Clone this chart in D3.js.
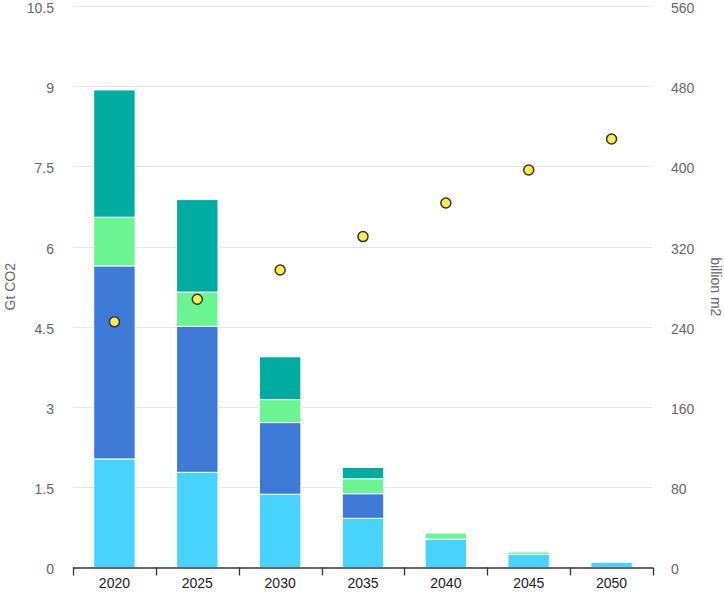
<!DOCTYPE html>
<html><head><meta charset="utf-8">
<script src="https://cdn.jsdelivr.net/npm/d3@7"></script>
<style>body{margin:0;background:#fff;}svg{display:block;font-family:"Liberation Sans",Arial,sans-serif;}</style>
</head><body><svg id="c" width="724" height="595"></svg>
<script>
const years = ["2020","2025","2030","2035","2040","2045","2050"];
const seriesNames = ["s1","s2","s3","s4"];
const s1 = [2.03, 1.78, 1.37, 0.92, 0.53, 0.245, 0.097];
const s2 = [3.61, 2.73, 1.34, 0.46, 0, 0, 0];
const s3 = [0.91, 0.64, 0.43, 0.28, 0.115, 0.045, 0];
const s4 = [2.38, 1.73, 0.80, 0.21, 0, 0, 0];
const colors = ["#48d3ff", "#3e79d5", "#6bf592", "#00ab9f"];
const area = [245, 267.5, 296.7, 330, 363.5, 396.4, 427.3];
const leftTicks = [0, 1.5, 3, 4.5, 6, 7.5, 9, 10.5];
const rightTicks = [0, 80, 160, 240, 320, 400, 480, 560];

const svg = d3.select("#c");
const m = {l:73, r:71, t:6, b:27.5};
const W = 724, H = 595;
const x = d3.scaleBand().domain(years).range([m.l, W - m.r]).paddingInner(0.5).paddingOuter(0.25);
const xb = d3.scaleBand().domain(years).range([m.l, W - m.r]);
const y = d3.scaleLinear().domain([0, 10.5]).range([H - m.b, m.t]);
const y2 = d3.scaleLinear().domain([0, 560]).range([H - m.b, m.t]);

// gridlines
svg.append("g").selectAll("line").data(leftTicks.slice(1)).join("line")
  .attr("x1", m.l).attr("x2", W - m.r - 1)
  .attr("y1", d => Math.round(y(d)) + 0.5).attr("y2", d => Math.round(y(d)) + 0.5)
  .attr("stroke", "#e6e6e6").attr("stroke-width", 1);

// stacked bars
const table = years.map((yr, i) => ({year: yr, s1: s1[i], s2: s2[i], s3: s3[i], s4: s4[i]}));
const stack = d3.stack().keys(seriesNames)(table);
svg.append("g").selectAll("g").data(stack).join("g")
  .attr("fill", (d, i) => colors[i])
  .selectAll("rect").data(d => d.filter(p => p[1] - p[0] > 0)).join("rect")
  .attr("x", d => x(d.data.year))
  .attr("width", x.bandwidth())
  .attr("y", d => y(d[1]))
  .attr("height", d => y(d[0]) - y(d[1]))
  .attr("stroke", "#ffffff").attr("stroke-width", 1);

// left axis labels
svg.append("g").selectAll("text").data(leftTicks).join("text")
  .attr("x", 54).attr("y", d => y(d) + 2).attr("dy", "0.35em")
  .attr("text-anchor", "end").attr("font-size", 14).attr("fill", "#666")
  .text(d => d);
// right axis labels
svg.append("g").selectAll("text").data(rightTicks).join("text")
  .attr("x", 671).attr("y", d => y2(d) + 2).attr("dy", "0.35em")
  .attr("text-anchor", "start").attr("font-size", 14).attr("fill", "#666")
  .text(d => d);

// bottom axis
const xAxis = d3.axisBottom(xb).tickSize(0).tickPadding(11);
const gx = svg.append("g").attr("transform", `translate(0,${H - m.b})`).call(xAxis);
gx.select(".domain").remove();
gx.selectAll("text").attr("font-size", 14).attr("fill", "#222").attr("font-family", "Liberation Sans, Arial, sans-serif");
const bounds = years.map(d => xb(d)).concat([xb(years[years.length-1]) + xb.bandwidth()]);
gx.append("line").attr("x1", m.l).attr("x2", W - m.r).attr("y1", 0.5).attr("y2", 0.5).attr("stroke", "#333").attr("stroke-width", 1.3);
gx.selectAll(".tk").data(bounds).join("line").attr("class", "tk")
  .attr("x1", d => Math.round(d) + 0.5).attr("x2", d => Math.round(d) + 0.5)
  .attr("y1", 0).attr("y2", 8).attr("stroke", "#333").attr("stroke-width", 1.3);

// dots
svg.append("g").selectAll("circle").data(area).join("circle")
  .attr("cx", (d, i) => xb(years[i]) + xb.bandwidth() / 2)
  .attr("cy", d => y2(d)).attr("r", 5)
  .attr("fill", "#fbee4c").attr("stroke", "#333").attr("stroke-width", 1.5);

// axis titles
svg.append("text").attr("transform", `translate(15,${(m.t + H - m.b)/2}) rotate(-90)`)
  .attr("text-anchor", "middle").attr("font-size", 14).attr("fill", "#666").text("Gt CO2");
svg.append("text").attr("transform", `translate(711,${(m.t + H - m.b)/2}) rotate(90)`)
  .attr("text-anchor", "middle").attr("font-size", 14).attr("fill", "#666").text("billion m2");
</script></body></html>
